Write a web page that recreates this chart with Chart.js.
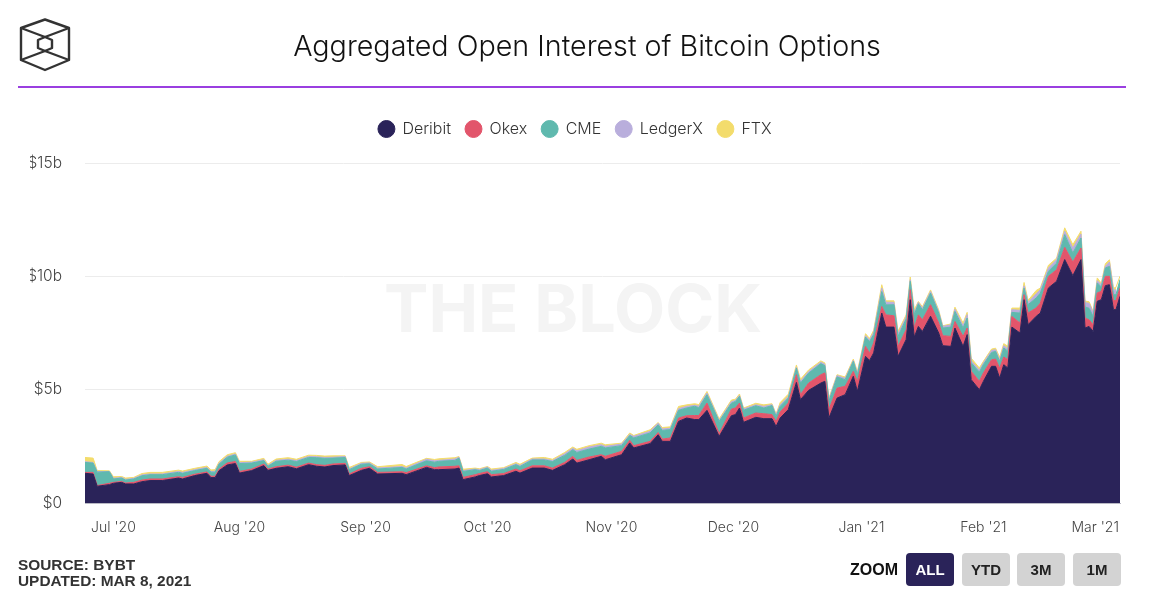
<!DOCTYPE html>
<html>
<head>
<meta charset="utf-8">
<title>Aggregated Open Interest of Bitcoin Options</title>
<script src="https://cdn.jsdelivr.net/npm/chart.js@4"></script>
<style>
  html, body { margin: 0; padding: 0; background: #fff; }
  #page { position: relative; width: 1150px; height: 596px; overflow: hidden; font-family: "Liberation Sans", sans-serif; }
  #page > * { position: absolute; }
  #myChart { left: 0; top: 0; }
  #heading { left: 237px; top: 28px; width: 700px; text-align: center; white-space: nowrap; font: 300 28.7px Inter, sans-serif; color: #111; }
  #rule { left: 18px; top: 86px; width: 1108px; height: 2px; background: #9a3fe0; }
  #mark { left: 384px; top: 268px; font: 700 66.5px Inter, sans-serif; color: #f4f4f4; white-space: nowrap; }
  #source { left: 18px; top: 557px; font-weight: 700; font-size: 15.4px; line-height: 16px; color: #333; }
  #zoomLabel { left: 850px; top: 561px; font-weight: 700; font-size: 16px; color: #111; }
  .btn { top: 553px; width: 48px; height: 33px; line-height: 33px; border-radius: 4px; background: #d3d3d3; color: #222; font-weight: 700; font-size: 15px; text-align: center; }
  .btn.on { background: #2a2359; color: #fff; }
</style>
</head>
<body>
<div id="page">
  <div id="mark">THE BLOCK</div>
  <canvas id="myChart" width="1150" height="596"></canvas>
  <svg style="left:0;top:0" width="90" height="80" fill="none" stroke="#333" stroke-width="2.4" stroke-linejoin="round">
    <path d="M45 19.5 L69 28 L69 60 L45 70 L21 60 L21 28 Z"/>
    <path d="M45 37 L52 40 L52 48 L45 51 L38 48 L38 40 Z"/>
    <path d="M21 28 L45 37 L69 28 M21 60 L45 51 L69 60"/>
  </svg>
  <div id="heading">Aggregated Open Interest of Bitcoin Options</div>
  <div id="rule"></div>
  <div id="source">SOURCE: BYBT<br>UPDATED: MAR 8, 2021</div>
  <div id="zoomLabel">ZOOM</div>
  <div class="btn on" style="left:906px">ALL</div>
  <div class="btn" style="left:962px">YTD</div>
  <div class="btn" style="left:1017px">3M</div>
  <div class="btn" style="left:1073px">1M</div>
</div>
<script>
// days counted from Jun 24 2020, values in $b
const days = [0,2,3,6,7,9,10,12,14,16,19,23,24,27,30,31,32,33,35,37,38,41,44,45,47,50,52,55,57,59,61,64,65,68,70,72,78,79,84,86,
  87,91,92,93,96,97,99,100,103,106,107,110,113,115,118,120,121,124,127,128,132,134,135,139,141,142,144,146,148,150,151,153,156,159,160,161,162,165,167,169,170,
  171,173,175,176,178,181,182,183,185,187,189,190,192,193,194,196,197,199,200,202,203,204,205,206,208,210,211,213,214,216,217,218,220,221,223,224,225,226,227,228,230,231,232,234,235,237,239,241,243,245,246,247,248,249,250,251,252,253,253.6,254.6];

const deribit = [1.31,1.28,.74,.81,.87,.91,.84,.84,.94,.99,.99,1.10,1.06,1.21,1.31,1.12,1.12,1.43,1.68,1.74,1.32,1.43,1.65,1.44,1.53,1.60,1.51,1.69,1.62,1.59,1.65,1.68,1.21,1.44,1.53,1.28,1.31,1.25,1.57,1.47,
  1.47,1.50,1.54,1.03,1.15,1.21,1.29,1.15,1.21,1.40,1.32,1.54,1.54,1.44,1.69,1.94,1.76,1.91,2.06,1.91,2.13,2.65,2.43,2.62,3.01,2.72,2.72,3.60,3.75,3.68,3.68,4.09,2.94,3.85,3.90,4.19,3.56,3.78,3.72,3.72,3.38,
  3.75,4.12,5.32,4.56,4.97,5.29,5.37,3.75,4.63,4.78,5.59,4.93,6.47,6.29,6.62,8.38,7.76,7.76,6.47,7.21,8.97,7.32,7.79,7.57,8.24,7.50,6.94,6.91,7.72,6.91,7.43,5.44,5.00,5.37,6.03,6.03,5.51,6.10,5.96,7.76,7.50,8.97,7.87,8.24,8.38,9.49,9.78,10.74,10.03,10.74,7.72,7.79,7.57,8.90,8.97,9.59,9.63,8.53,8.53,9.12];
const okex = [.04,.07,.03,.06,.04,.04,.04,.07,.07,.07,.07,.06,.07,.06,.06,.06,.06,.07,.09,.09,.07,.07,.07,.06,.07,.07,.07,.07,.07,.07,.07,.07,.07,.09,.07,.07,.07,.09,.07,.09,
  .12,.12,.10,.10,.10,.09,.09,.10,.09,.10,.10,.10,.10,.10,.10,.12,.12,.12,.07,.15,.15,.12,.10,.10,.10,.10,.15,.15,.10,.18,.18,.32,.12,.29,.29,.22,.19,.19,.22,.18,.22,
  .26,.29,.34,.22,.32,.37,.37,.37,.44,.37,.22,.44,.44,.32,.44,.29,.54,.50,.44,.44,.44,.40,.51,.51,.51,.44,.44,.44,.29,.44,.29,.37,.37,.37,.29,.32,.44,.34,.37,.47,.44,.22,.51,.37,.44,.51,.51,.54,.60,.51,.44,.29,.29,.37,.37,.41,.37,.40,.40,.37];
const cme = [.44,.41,.59,.51,.15,.15,.13,.15,.19,.19,.19,.19,.18,.16,.16,.18,.18,.22,.25,.29,.35,.26,.15,.12,.24,.22,.25,.25,.31,.31,.26,.26,.19,.18,.13,.15,.19,.16,.22,.24,
  .25,.26,.34,.26,.22,.13,.16,.15,.18,.19,.19,.26,.26,.29,.31,.29,.35,.35,.37,.37,.25,.21,.34,.37,.34,.38,.37,.34,.34,.41,.34,.37,.54,.26,.29,.29,.34,.32,.25,.40,.22,
  .25,.22,.29,.51,.44,.49,.32,.37,.49,.29,.44,.29,.41,.51,.37,.66,.44,.49,.44,.47,.37,.59,.49,.44,.51,.44,.34,.41,.44,.37,.44,.37,.40,.37,.32,.34,.29,.40,.37,.18,.44,.29,.37,.44,.44,.22,.29,.56,.40,.44,.49,.51,.37,.44,.19,.37,.44,.26,.26,.37];
const ledgerx = [.03,.03,.03,.01,.03,.03,.03,.03,.04,.03,.03,.04,.04,.04,.04,.03,.04,.04,.04,.04,.04,.04,.04,.03,.04,.04,.04,.04,.04,.04,.04,.04,.03,.04,.04,.04,.04,.04,.07,.06,
  .04,.06,.04,.04,.03,.04,.04,.04,.04,.04,.04,.04,.04,.04,.07,.06,.07,.09,.07,.07,.07,.04,.07,.07,.07,.06,.06,.07,.07,.04,.07,.07,.04,.07,.04,.04,.06,.04,.07,.04,.07,
  .07,.07,.04,.07,.07,.06,.06,.07,.06,.06,.04,.07,.06,.07,.10,.15,.12,.10,.12,.09,.07,.07,.06,.07,.07,.07,.07,.10,.10,.10,.15,.09,.09,.07,.09,.07,.07,.10,.10,.12,.12,.10,.10,.18,.15,.15,.15,.15,.22,.18,.19,.22,.15,.10,.10,.07,.19,.19,.22];
const ftx = [.19,.19,.04,.03,.07,.04,.06,.04,.06,.07,.07,.06,.06,.06,.06,.07,.07,.07,.07,.06,.06,.04,.06,.06,.06,.07,.06,.06,.06,.06,.06,.03,.07,.04,.04,.06,.09,.07,.04,.06,
  .07,.06,.03,.06,.04,.04,.03,.06,.04,.06,.06,.04,.07,.06,.06,.06,.07,.06,.07,.07,.04,.07,.04,.07,.03,.07,.06,.10,.07,.07,.07,.07,.07,.07,.06,.07,.04,.07,.07,.04,.04,
  .10,.10,.10,.10,.07,.06,.06,.07,.04,.06,.06,.07,.09,.07,.09,.15,.06,.07,.10,.09,.12,.15,.04,.07,.07,.07,.03,.04,.09,.12,.10,.12,.10,.07,.06,.07,.12,.09,.12,.07,.10,.15,.09,.15,.07,.12,.07,.15,.15,.12,.07,.07,.07,.12,.07,.12,.10,.10,.10,.15];

const monthDays = [7,38,69,99,129.5,159.5,191,221,248.5];
const monthLabels = ["Jul '20","Aug '20","Sep '20","Oct '20","Nov '20","Dec '20","Jan '21","Feb '21","Mar '21"];
const valueTicks = [0,5,10,15];
const seriesNames = ["Deribit","Okex","CME","LedgerX","FTX"];
const seriesColors = ["#2a2359","#e2556b","#5fb9ae","#b9aedc","#f3dc6c"];
const seriesValues = [deribit,okex,cme,ledgerx,ftx];

// extra room under the legend
const legendGap = {
  id: "legendGap",
  beforeInit(chart) {
    const fit = chart.legend.fit;
    chart.legend.fit = function () {
      fit.call(this);
      this.height += 16;
    };
  }
};

new Chart(document.getElementById("myChart"), {
  type: "line",
  plugins: [legendGap],
  data: {
    datasets: seriesNames.map((name, i) => ({
      label: name,
      data: days.map((d, j) => ({ x: d, y: seriesValues[i][j] })),
      backgroundColor: seriesColors[i],
      borderColor: seriesColors[i],
      borderWidth: 1,
      pointRadius: 0,
      tension: 0,
      fill: i === 0 ? "origin" : "-1"
    }))
  },
  options: {
    responsive: false,
    animation: false,
    layout: { padding: { left: 30, right: 30, top: 106.5, bottom: 0 } },
    plugins: {
      tooltip: { enabled: false },
      legend: {
        position: "top",
        labels: {
          usePointStyle: true,
          boxHeight: 12,
          padding: 14.5,
          color: "#333",
          font: { family: "Inter, sans-serif", size: 16, weight: 300 }
        }
      }
    },
    scales: {
      x: {
        type: "linear",
        min: 0,
        max: 254.6,
        afterBuildTicks: (scale) => { scale.ticks = monthDays.map((v) => ({ value: v })); },
        ticks: {
          autoSkip: false,
          maxRotation: 0,
          padding: 8,
          color: "#444",
          font: { family: "Inter, sans-serif", size: 14, weight: 300 },
          callback: (v) => monthLabels[monthDays.indexOf(v)]
        },
        grid: { display: false },
        border: { color: "#b9b9c4" },
        afterFit: (scale) => { scale.height = 93; }
      },
      y: {
        stacked: true,
        min: 0,
        max: 15,
        afterBuildTicks: (scale) => { scale.ticks = valueTicks.map((v) => ({ value: v })); },
        ticks: {
          padding: 23,
          color: "#444",
          font: { family: "Inter, sans-serif", size: 15.5, weight: 300 },
          callback: (v) => v === 0 ? "$0" : "$" + v + "b"
        },
        grid: { color: "#ececec", drawTicks: false },
        border: { display: false },
        afterFit: (scale) => { scale.width = 55; }
      }
    }
  }
});
</script>
</body>
</html>
